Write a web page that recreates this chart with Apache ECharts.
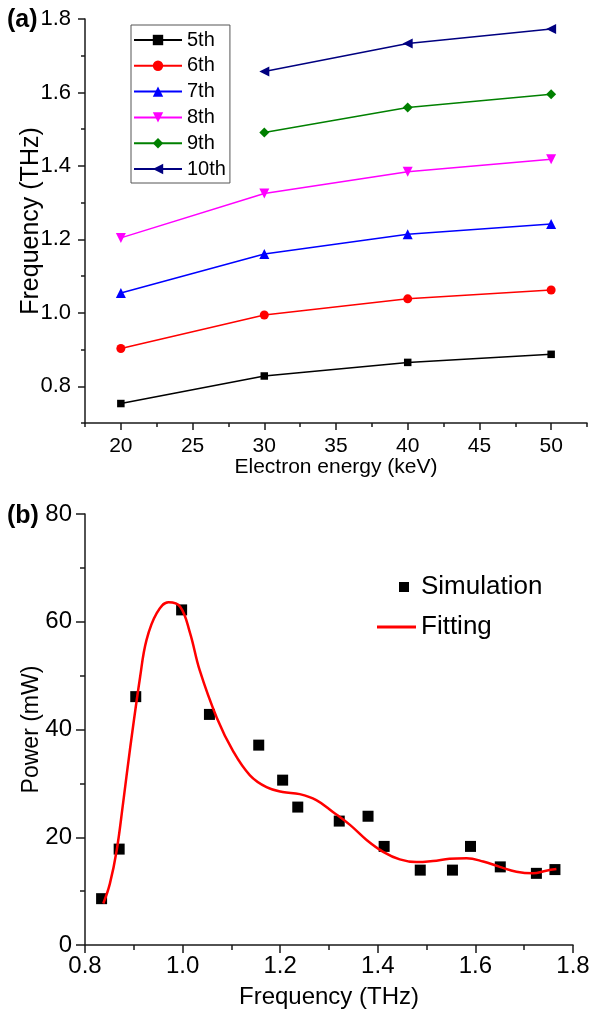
<!DOCTYPE html>
<html>
<head>
<meta charset="utf-8">
<script src="https://cdn.jsdelivr.net/npm/echarts@6/dist/echarts.min.js"></script>
<style>html,body{margin:0;padding:0;background:#fff}#c{width:589px;height:1013px}</style>
</head>
<body>
<div id="c"></div>
<script>
// ---- Panel (a) data ----
const energy = [20, 30, 40, 50];
const f5 = [0.753, 0.828, 0.865, 0.887];
const f6 = [0.903, 0.994, 1.038, 1.062];
const f7 = [1.054, 1.160, 1.214, 1.242];
const f8 = [1.204, 1.325, 1.384, 1.418];
const f9 = [null, 1.491, 1.559, 1.595];
const f10 = [null, 1.657, 1.733, 1.773];
const seriesNamesA = ['5th', '6th', '7th', '8th', '9th', '10th'];
const xMajorA = [20, 25, 30, 35, 40, 45, 50];
const xMinorA = [17.5, 22.5, 27.5, 32.5, 37.5, 42.5, 47.5, 52.5];
const yMajorA = [0.8, 1.0, 1.2, 1.4, 1.6, 1.8];
const yMinorA = [0.7, 0.9, 1.1, 1.3, 1.5, 1.7];

// ---- Panel (b) data ----
const simFreq = [0.834, 0.870, 0.904, 0.998, 1.055, 1.156, 1.205, 1.236, 1.321, 1.380, 1.413, 1.487, 1.553, 1.590, 1.651, 1.725, 1.763];
const simPower = [8.6, 17.8, 46.1, 62.2, 42.8, 37.1, 30.6, 25.6, 23.0, 23.9, 18.3, 13.9, 13.9, 18.3, 14.5, 13.3, 14.0];
const fitFreq = [0.8375, 0.851, 0.865, 0.878, 0.892, 0.913, 0.926, 0.947, 0.971, 0.995, 1.015, 1.035, 1.070, 1.104, 1.138, 1.172, 1.205, 1.240, 1.274, 1.308, 1.343, 1.377, 1.411, 1.445, 1.479, 1.513, 1.547, 1.582, 1.616, 1.650, 1.684, 1.718, 1.745, 1.766];
const fitPower = [7.7, 11.4, 17.6, 26.3, 36.2, 49.8, 56.6, 61.6, 63.6, 62.8, 58.0, 51.0, 42.2, 35.9, 31.5, 29.3, 28.4, 28.0, 26.9, 24.7, 22.3, 19.5, 17.3, 15.9, 15.4, 15.6, 16.0, 16.1, 15.5, 14.5, 13.6, 13.3, 13.8, 14.1];

const FONT = '"Liberation Sans", Arial, sans-serif';
const AX = '#1a1a1a';
const colorsA = ['#000000', '#ff0000', '#0000ff', '#ff00ff', '#008000', '#000080'];
const symbolsA = [
  'rect', 'circle', 'triangle',
  'path://M0,0 L10,0 L5,9 Z',
  'diamond',
  'path://M9,0 L9,10 L0,5 Z'
];
const sizesA = [7.5, 9, 10, 10, 10, 10];
const valsA = [f5, f6, f7, f8, f9, f10];

function pairs(xs, ys) {
  const out = [];
  for (let i = 0; i < xs.length; i++) if (ys[i] != null) out.push([xs[i], ys[i]]);
  return out;
}

const seriesA = seriesNamesA.map((n, i) => ({
  name: n, type: 'line', xAxisIndex: 0, yAxisIndex: 0,
  data: pairs(energy, valsA[i]),
  symbol: symbolsA[i], symbolSize: sizesA[i], showAllSymbol: true,
  lineStyle: { color: colorsA[i], width: 1.5 },
  itemStyle: { color: colorsA[i] },
  animation: false
}));

const chart = echarts.init(document.getElementById('c'), null, { renderer: 'canvas' });
chart.setOption({
  animation: false,
  textStyle: { fontFamily: FONT },
  grid: [
    { left: 85, top: 19, right: 2, bottom: 590, containLabel: false, outerBoundsMode: 'none' },
    { left: 85, top: 514, right: 16, bottom: 68, containLabel: false, outerBoundsMode: 'none' }
  ],
  xAxis: [
    { type: 'value', gridIndex: 0, min: 17.5, max: 52.5, position: 'bottom',
      name: 'Electron energy (keV)', nameLocation: 'middle', nameGap: 34, nameMoveOverlap: false,
      nameTextStyle: { fontSize: 21, color: '#000', fontFamily: FONT },
      axisLine: { lineStyle: { color: AX, width: 1.5 } },
      axisTick: { customValues: xMajorA, length: 7, lineStyle: { color: AX, width: 1.5 } },
      axisLabel: { customValues: xMajorA, fontSize: 21, color: '#000', margin: 13, fontFamily: FONT },
      splitLine: { show: false } },
    { type: 'value', gridIndex: 0, min: 17.5, max: 52.5, position: 'bottom',
      axisLine: { show: false },
      axisTick: { customValues: xMinorA, length: 4, lineStyle: { color: AX, width: 1.5 } },
      axisLabel: { show: false }, splitLine: { show: false } },
    { type: 'value', gridIndex: 1, min: 0.8, max: 1.8, interval: 0.2, position: 'bottom',
      name: 'Frequency (THz)', nameLocation: 'middle', nameGap: 40, nameMoveOverlap: false,
      nameTextStyle: { fontSize: 24, color: '#000', fontFamily: FONT },
      axisLine: { lineStyle: { color: AX, width: 1.5 } },
      axisTick: { length: 8, lineStyle: { color: AX, width: 1.5 } },
      minorTick: { show: true, splitNumber: 2, length: 5, lineStyle: { color: AX, width: 1.5 } },
      axisLabel: { fontSize: 24, color: '#000', margin: 9, fontFamily: FONT, formatter: v => v.toFixed(1) },
      splitLine: { show: false } }
  ],
  yAxis: [
    { type: 'value', gridIndex: 0, min: 0.7, max: 1.8, position: 'left',
      name: 'Frequency (THz)', nameLocation: 'middle', nameGap: 41, nameRotate: 90, nameMoveOverlap: false,
      nameTextStyle: { fontSize: 25, color: '#000', fontFamily: FONT },
      axisLine: { show: true, lineStyle: { color: AX, width: 1.5 } },
      axisTick: { show: true, customValues: yMajorA, length: 7, lineStyle: { color: AX, width: 1.5 } },
      axisLabel: { customValues: yMajorA, fontSize: 22, color: '#000', margin: 14, fontFamily: FONT, formatter: v => v.toFixed(1) },
      splitLine: { show: false } },
    { type: 'value', gridIndex: 0, min: 0.7, max: 1.8, position: 'left', offset: 0,
      axisLine: { show: false },
      axisTick: { show: true, customValues: yMinorA, length: 4, lineStyle: { color: AX, width: 1.5 } },
      axisLabel: { show: false }, splitLine: { show: false } },
    { type: 'value', gridIndex: 1, min: 0, max: 80, interval: 20, position: 'left',
      name: 'Power (mW)', nameLocation: 'middle', nameGap: 42, nameRotate: 90, nameMoveOverlap: false,
      nameTextStyle: { fontSize: 23, color: '#000', fontFamily: FONT },
      axisLine: { show: true, lineStyle: { color: AX, width: 1.5 } },
      axisTick: { show: true, length: 9, lineStyle: { color: AX, width: 1.5 } },
      minorTick: { show: true, splitNumber: 2, length: 5, lineStyle: { color: AX, width: 1.5 } },
      axisLabel: { fontSize: 24, color: '#000', margin: 13, fontFamily: FONT },
      splitLine: { show: false } }
  ],
  legend: [
    { data: seriesNamesA, orient: 'vertical', left: 131, top: 25,
      itemWidth: 48, itemHeight: 13, itemGap: 5.8,
      padding: [5, 4, 4, 2],
      borderColor: '#555', borderWidth: 1,
      textStyle: { fontSize: 20, color: '#000', fontFamily: FONT } },
    { data: [{ name: 'Simulation', icon: 'rect' }], left: 399, top: 574,
      itemWidth: 10, itemHeight: 10, padding: 0,
      textStyle: { fontSize: 26, color: '#000', fontFamily: FONT, padding: [0, 0, 0, 7] } },
    { data: [{ name: 'Fitting', icon: 'rect' }], left: 377, top: 614,
      itemWidth: 39, itemHeight: 3, padding: 0,
      textStyle: { fontSize: 26, color: '#000', fontFamily: FONT } }
  ],
  graphic: [
    { type: 'text', left: 7, top: 8, style: { text: '(a)', fontSize: 25, fontWeight: 'bold', fill: '#000', fontFamily: FONT } },
    { type: 'text', left: 7, top: 504, style: { text: '(b)', fontSize: 25, fontWeight: 'bold', fill: '#000', fontFamily: FONT } }
  ],
  series: seriesA.concat([
    { name: 'Fitting', type: 'line', xAxisIndex: 2, yAxisIndex: 2,
      data: pairs(fitFreq, fitPower), smooth: 0.4, showSymbol: false, symbol: 'none',
      lineStyle: { color: '#ff0000', width: 2.5 }, itemStyle: { color: '#ff0000' } },
    { name: 'Simulation', type: 'scatter', xAxisIndex: 2, yAxisIndex: 2,
      data: pairs(simFreq, simPower), symbol: 'rect', symbolSize: 11,
      itemStyle: { color: '#000', opacity: 1 } }
  ])
});
</script>
</body>
</html>
